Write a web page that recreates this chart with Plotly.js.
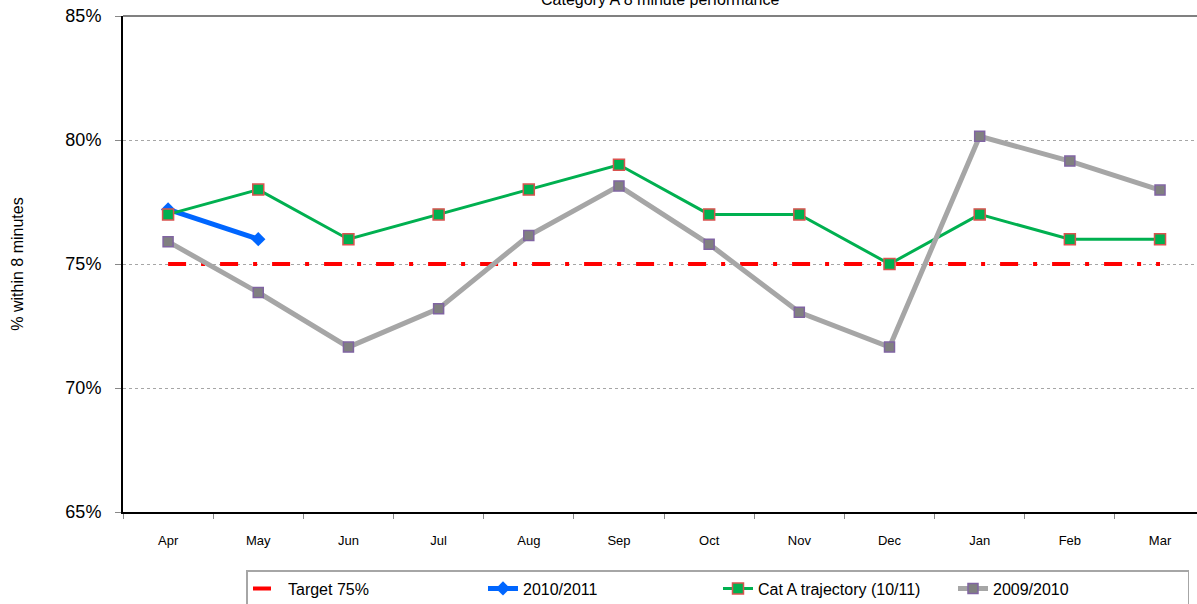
<!DOCTYPE html>
<html>
<head>
<meta charset="utf-8">
<script src="https://cdn.plot.ly/plotly-3.0.1.min.js"></script>
<style>
  html, body { margin: 0; padding: 0; background: #fff; }
  #chart { width: 1197px; height: 604px; }
</style>
</head>
<body>
<div id="chart"></div>
<script>
//Chart data
const months = ["Apr","May","Jun","Jul","Aug","Sep","Oct","Nov","Dec","Jan","Feb","Mar"];
const target = [75,75,75,75,75,75,75,75,75,75,75,75];
const season1011 = [77.2, 76.0];
const catATrajectory = [77,78,76,77,78,79,77,77,75,77,76,76];
const season0910 = [75.9,73.85,71.65,73.2,76.15,78.15,75.8,73.05,71.65,80.15,79.15,77.98];
const yTicks = [65,70,75,80,85];
const yTickText = ["65%","70%","75%","80%","85%"];

const font = "Liberation Sans, Arial, sans-serif";

const traces = [
  {
    type: "scatter", mode: "lines", name: "Target 75%",
    x: months, y: target,
    line: {color: "#ff0000", width: 4, dash: "18px,15px,4px,15px"}
  },
  {
    type: "scatter", mode: "lines+markers", name: "2010/2011",
    x: months.slice(0, season1011.length), y: season1011,
    line: {color: "#0066ff", width: 5},
    marker: {symbol: "diamond", size: 11, color: "#0066ff"}
  },
  {
    type: "scatter", mode: "lines+markers", name: "Cat A trajectory (10/11)",
    x: months, y: catATrajectory,
    line: {color: "#00b050", width: 3},
    marker: {symbol: "square", size: 11, color: "#00b050", line: {color: "#d9534f", width: 1.5}}
  },
  {
    type: "scatter", mode: "lines+markers", name: "2009/2010",
    x: months, y: season0910,
    line: {color: "#a6a6a6", width: 5},
    marker: {symbol: "square", size: 10, color: "#808080", line: {color: "#8064a2", width: 1.5}}
  }
];

const layout = {
  width: 1197, height: 604,
  margin: {l: 123, r: 0, t: 16, b: 92, autoexpand: false},
  paper_bgcolor: "#ffffff", plot_bgcolor: "#ffffff",
  font: {family: font, color: "#000"},
  xaxis: {
    type: "category",
    range: [-0.5, 11.41],
    showgrid: false, zeroline: false,
    showline: true, linecolor: "#000", linewidth: 2,
    ticks: "outside", ticklen: 5, tickcolor: "#888", tickson: "boundaries",
    tickfont: {size: 13, family: font, color: "#000"},
    ticklabelstandoff: 15
  },
  yaxis: {
    range: [65, 85],
    tickvals: yTicks, ticktext: yTickText,
    showgrid: true, gridcolor: "#a6a6a6", gridwidth: 1, griddash: "dot",
    zeroline: false,
    showline: true, linecolor: "#000", linewidth: 2,
    ticks: "outside", ticklen: 6, tickcolor: "#888",
    tickfont: {size: 18, family: font, color: "#000"},
    ticklabelstandoff: 10,
    title: {text: "% within 8 minutes", font: {size: 16, family: font, color: "#000"}, standoff: 38}
  },
  annotations: [
    {text: "Category A 8 minute performance", xref: "paper", yref: "paper",
     x: 0.5, y: 1, xanchor: "center", yanchor: "middle", yshift: 17, showarrow: false,
     font: {size: 16, family: font, color: "#000"}}
  ],
  shapes: [
    {type: "line", xref: "paper", yref: "paper", x0: 0, x1: 1, y0: 1, y1: 1,
     line: {color: "#808080", width: 2}}
  ],
  showlegend: true,
  legend: {
    orientation: "h",
    x: 0.554, xanchor: "center",
    y: -0.117, yanchor: "top",
    bordercolor: "#a6a6a6", borderwidth: 1.5,
    bgcolor: "#ffffff",
    font: {size: 16, family: font, color: "#000"},
    entrywidth: 190, entrywidthmode: "pixels",
    traceorder: "normal"
  }
};

Plotly.newPlot("chart", traces, layout, {displayModeBar: false});
</script>
</body>
</html>
